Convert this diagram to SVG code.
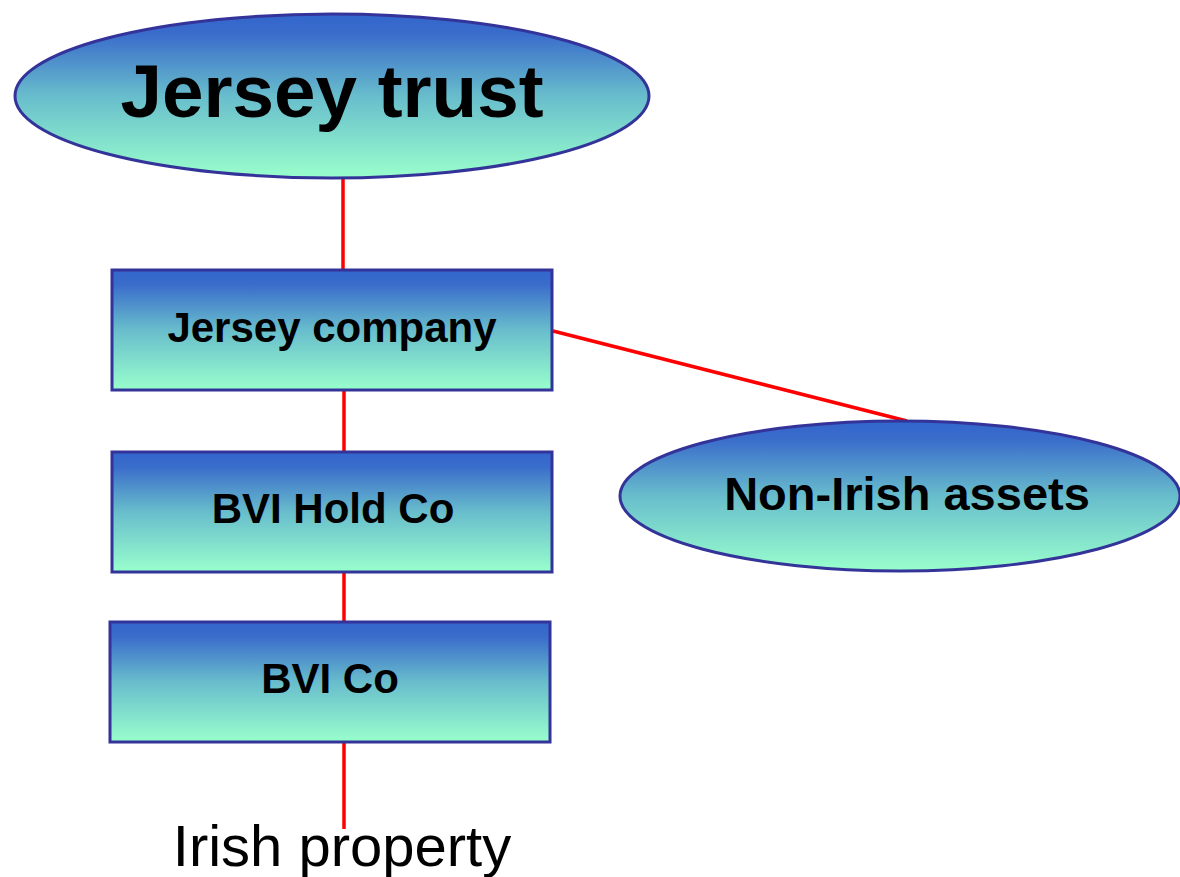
<svg xmlns="http://www.w3.org/2000/svg" width="1180" height="877" viewBox="0 0 1180 877">
  <defs>
    <linearGradient id="fill" x1="0" y1="0" x2="0" y2="1">
      <stop offset="0" stop-color="#3366cc"/>
      <stop offset="0.12" stop-color="#3a6ccb"/>
      <stop offset="0.5" stop-color="#68bdcc"/>
      <stop offset="1" stop-color="#99ffcc"/>
    </linearGradient>
  </defs>
  <style>
    .shape { fill: url(#fill); stroke: #333399; stroke-width: 3; }
    .link { stroke: #ff0000; stroke-width: 3.5; fill: none; }
    .label { font-family: "Liberation Sans", Arial, sans-serif; font-weight: bold; fill: #000; text-anchor: middle; }
    .plain { font-family: "Liberation Sans", Arial, sans-serif; fill: #000; text-anchor: middle; }
  </style>

  <g id="connectors">
    <line class="link" x1="343" y1="179" x2="343" y2="270"/>
    <line class="link" x1="344" y1="391" x2="344" y2="451"/>
    <line class="link" x1="344" y1="572" x2="344" y2="621"/>
    <line class="link" x1="344" y1="743" x2="344" y2="829"/>
    <line class="link" x1="553" y1="331" x2="907" y2="421"/>
  </g>

  <g id="jersey-trust">
    <ellipse class="shape" cx="332" cy="96" rx="317" ry="82"/>
    <text class="label" x="332" y="117" font-size="75" textLength="423" lengthAdjust="spacingAndGlyphs">Jersey trust</text>
  </g>

  <g id="jersey-company">
    <rect class="shape" x="112" y="270" width="440" height="120"/>
    <text class="label" x="332" y="342" font-size="42">Jersey company</text>
  </g>

  <g id="bvi-hold-co">
    <rect class="shape" x="112" y="452" width="440" height="120"/>
    <text class="label" x="333" y="523" font-size="42">BVI Hold Co</text>
  </g>

  <g id="bvi-co">
    <rect class="shape" x="110" y="622" width="440" height="120"/>
    <text class="label" x="330" y="693" font-size="42">BVI Co</text>
  </g>

  <g id="non-irish-assets">
    <ellipse class="shape" cx="900" cy="496" rx="280" ry="75"/>
    <text class="label" x="907" y="510" font-size="47">Non-Irish assets</text>
  </g>

  <g id="irish-property">
    <text class="plain" x="342" y="866" font-size="58">Irish property</text>
  </g>
</svg>
